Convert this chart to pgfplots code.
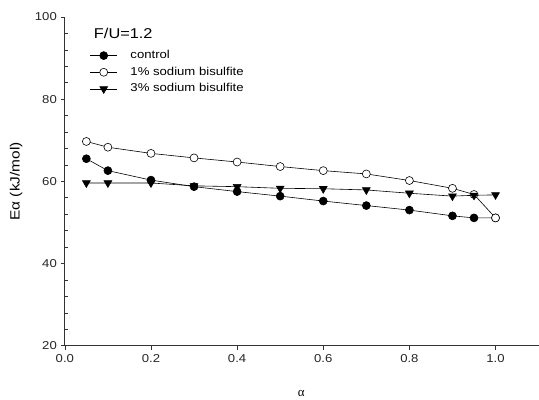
\documentclass[border=0pt]{standalone}
\usepackage{pgfplots}
\pgfplotsset{compat=1.18}
\usepackage{fontspec}
\setmainfont{Liberation Sans}[FakeStretch=1.15]
\newfontfamily\serifa{Liberation Serif}
\begin{document}
\begin{tikzpicture}
\begin{axis}[name=ax,
  scale only axis, width=475bp, height=329.6bp,
  xmin=0, xmax=1.1, ymin=20, ymax=100,
  axis x line*=bottom, axis y line*=left,
  axis line style={line width=0.8pt, black!80, -},
  xtick={0,0.2,...,1.0},
  xticklabels={0.0,0.2,0.4,0.6,0.8,1.0},
  ytick={20,40,...,100},
  extra y ticks={24,28,32,36,44,48,52,56,64,68,72,76,84,88,92,96},
  extra y tick labels={},
  extra y tick style={tick align=inside, major tick length=3.5bp},
  tick align=outside, major tick length=4bp,
  tick style={black!80, line width=0.6pt},
  /pgf/number format/assume math mode=true,
  tick label style={font=\fontsize{11.5}{13}\selectfont, black!85},
  xticklabel style={yshift=-1bp},
  yticklabel style={xshift=-0.5bp},
  ylabel={Eα (kJ/mol)},
  ylabel style={at={(axis description cs:-0.103,0.50)}, anchor=center, font=\fontsize{13.5}{15}\selectfont},
  xlabel={\serifa α},
  xlabel style={at={(axis description cs:0.499,-0.145)}, anchor=center, font=\fontsize{13}{15}\selectfont},
  legend style={draw=none, fill=none, at={(axis cs:0.0579,92.1)}, anchor=north west,
    font=\fontsize{11.5}{13}\selectfont, inner sep=0pt, row sep=4.7bp,
    nodes={inner sep=0pt, text height=9bp, text depth=3bp},
    /tikz/every odd column/.append style={column sep=13bp}},
  legend cell align=left,
  legend image code/.code={\draw[mark repeat=2,mark phase=2] plot coordinates {(0bp,0bp)(13.5bp,0bp)(27bp,0bp)};},
]
\addplot[black, line width=0.6pt, mark=*, mark size=4bp, mark options={fill=black}] coordinates {
(0.05,65.5)(0.1,62.6)(0.2,60.3)(0.3,58.7)(0.4,57.5)(0.5,56.4)(0.6,55.2)(0.7,54.1)(0.8,53.0)(0.9,51.6)(0.95,51.1)(1.0,51.1)};
\addlegendentry{control}
\addplot[black, line width=0.6pt, mark=*, mark size=4bp, mark options={fill=white}] coordinates {
(0.05,69.7)(0.1,68.3)(0.2,66.8)(0.3,65.7)(0.4,64.7)(0.5,63.6)(0.6,62.6)(0.7,61.8)(0.8,60.2)(0.9,58.3)(0.95,56.8)(1.0,51.1)};
\addlegendentry{1\% sodium bisulfite}
\addplot[black, line width=0.6pt, mark=triangle*, mark size=4.5bp, mark options={fill=black, rotate=180}] coordinates {
(0.05,59.6)(0.1,59.6)(0.2,59.6)(0.3,58.9)(0.4,58.7)(0.5,58.3)(0.6,58.2)(0.7,57.9)(0.8,57.1)(0.9,56.4)(0.95,56.6)(1.0,56.7)};
\addlegendentry{3\% sodium bisulfite}
\node[anchor=west, font=\fontsize{14.3}{16}\selectfont, inner sep=0pt] at (axis cs:0.0672,96.1) {F/U=1.2};
\end{axis}
\path ([xshift=-65bp,yshift=-51.4bp]ax.south west) rectangle ([yshift=17bp]ax.north east);
\end{tikzpicture}
\end{document}
